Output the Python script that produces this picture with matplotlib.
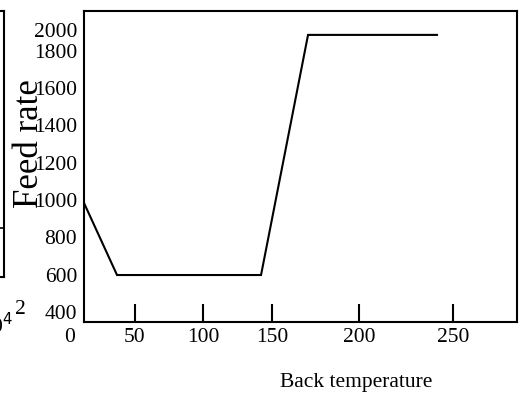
import numpy as np
import matplotlib
matplotlib.use("Agg")
import matplotlib.pyplot as plt
import matplotlib.transforms as mtransforms

plt.rcParams["font.family"] = ["Liberation Serif", "DejaVu Serif"]

# feed rate profile against back temperature
back_temp = [12.8, 36.9, 142.0, 176.3, 270.4]
feed_rate = [984, 598, 598, 1884, 1884]

# tick positions / labels as drawn in the reference (not evenly placed)
x_tick_pos = [50, 100, 150, 213.5, 282.1]
x_tick_labels = ["50", "100", "150", "200", "250"]
x_zero_pos = 2.6
y_tick_pos = [400, 600, 800, 1000, 1200, 1400, 1600, 1800, 1910]
y_tick_labels = ["400", "600", "800", "1000", "1200", "1400", "1600", "1800", "2000"]

# neighbouring panel, only its right edge shows
left_level = 0.184

W, H = 521, 397
fig = plt.figure(figsize=(W / 100, H / 100), dpi=100)

# main axes
ax = fig.add_axes([84 / W, 1 - 322 / H, (517 - 84) / W, (322 - 11) / H])
ax.plot(back_temp, feed_rate, color="black", lw=1.5, solid_joinstyle="miter")
ax.set_xlim(12.8, 328.8)
ax.set_ylim(346.4, 2012)
ax.set_xticks(x_tick_pos)
ax.set_xticklabels(x_tick_labels)
ax.set_yticks(y_tick_pos)
ax.set_yticklabels(y_tick_labels)
ax.tick_params(axis="x", direction="in", length=13, width=1.5, pad=4, labelsize=15.5)
ax.tick_params(axis="y", length=0, pad=5, labelsize=15.5)
for s in ax.spines.values():
    s.set_linewidth(1.5)

# the "0" label sits left of the axes box in the reference
trans = mtransforms.blended_transform_factory(ax.transData, ax.transAxes)
offset = mtransforms.ScaledTranslation(0, -4 / 72, fig.dpi_scale_trans)
ax.text(x_zero_pos, 0, "0", transform=trans + offset, ha="center", va="top",
        fontsize=15.5, clip_on=False)

fig.text(30 / W, 1 - 144 / H, "Feed rate", rotation=90, ha="center", va="center", fontsize=25)
fig.text(356 / W, 1 - 383 / H, "Back temperature", ha="center", va="center", fontsize=15.5)

# partial left panel
ax2 = fig.add_axes([-0.2, 1 - 277 / H, 0.2 + 4 / W, (277 - 11) / H])
ax2.axhline(left_level, color="black", lw=1.2)
ax2.set_ylim(0, 1)
ax2.set_xticks([])
ax2.set_yticks([])
for s in ax2.spines.values():
    s.set_linewidth(1.5)
fig.text(20 / W, 1 - 310 / H, "2", ha="center", va="center", fontsize=15.5)
fig.text(13 / W, 1 - 326 / H, "10$^4$", ha="right", va="center", fontsize=15.5)

fig.savefig("out.png", dpi=100)
